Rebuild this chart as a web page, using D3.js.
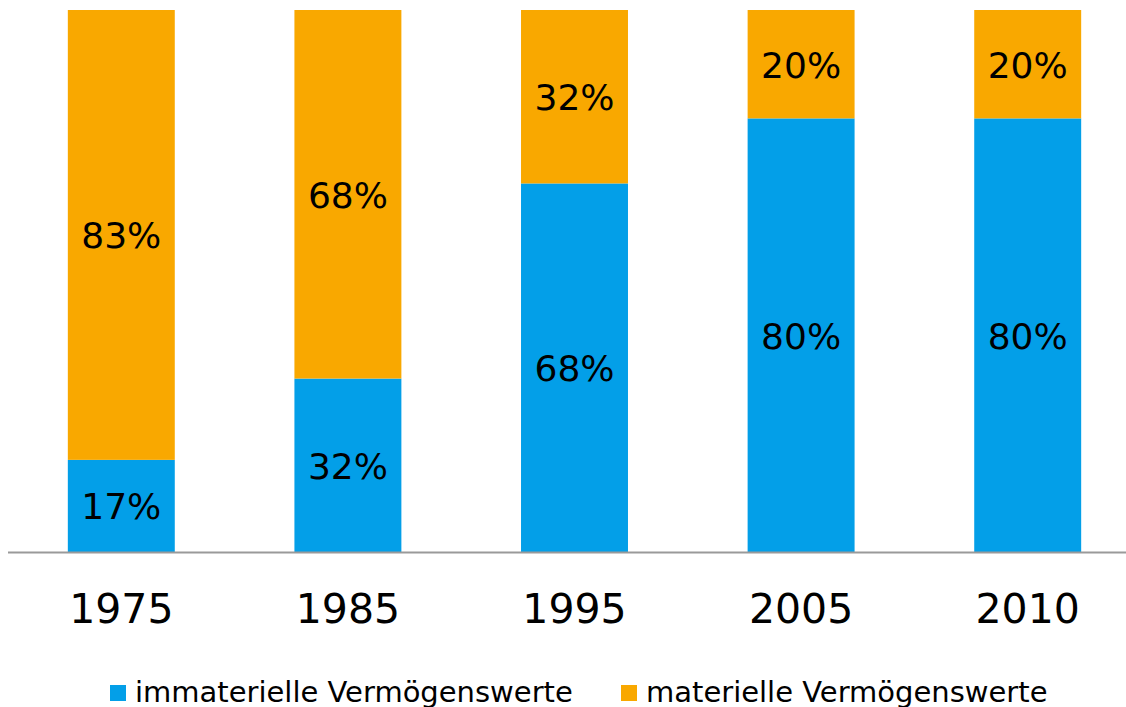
<!DOCTYPE html>
<html>
<head>
<meta charset="utf-8">
<script src="https://cdn.jsdelivr.net/npm/d3@7"></script>
<style>
  body { margin: 0; background: #fff; }
  svg { display: block; font-family: Verdana, "DejaVu Sans", sans-serif; }
</style>
</head>
<body>
<svg id="chart"></svg>
<script>
// data
let aYears = ['1975', '1985', '1995', '2005', '2010'];
let aImmateriell = [17, 32, 68, 80, 80];
let aMateriell = [83, 68, 32, 20, 20];
let aSeries = ['immaterielle Vermögenswerte', 'materielle Vermögenswerte'];
let aColors = ['#039fe8', '#f9a800'];

let iWidth = 1126;
let iHeight = 707;

let oSvg = d3.select('#chart')
      .attr('width', iWidth)
      .attr('height', iHeight);

let x = d3.scaleBand()
      .domain(aYears)
      .range([8, 1141])
      .paddingInner(0.528)
      .paddingOuter(0.264);

let y = d3.scaleLinear()
      .domain([0, 100])
      .range([552, 10]);

let oRows = aYears.map((sYear, i) => ({ year: sYear, a: aImmateriell[i], b: aMateriell[i] }));
let oStack = d3.stack().keys(['a', 'b'])(oRows);

let oLayers = oSvg.selectAll('g.layer')
      .data(oStack)
      .enter().append('g')
        .attr('class', 'layer')
        .attr('fill', (d, i) => aColors[i]);

oLayers.selectAll('rect')
      .data(d => d)
      .enter().append('rect')
        .attr('x', d => x(d.data.year))
        .attr('y', d => y(d[1]))
        .attr('width', x.bandwidth())
        .attr('height', d => y(d[0]) - y(d[1]));

oLayers.selectAll('text')
      .data(d => d)
      .enter().append('text')
        .attr('x', d => x(d.data.year) + x.bandwidth() / 2)
        .attr('y', d => (y(d[0]) + y(d[1])) / 2)
        .attr('dy', '0.37em')
        .attr('text-anchor', 'middle')
        .attr('font-size', 36)
        .attr('fill', '#000')
        .text(d => (d[1] - d[0]) + '%');

// baseline
oSvg.append('line')
      .attr('x1', 8)
      .attr('x2', iWidth)
      .attr('y1', y(0) + 0.5)
      .attr('y2', y(0) + 0.5)
      .attr('stroke', '#9a9a9a')
      .attr('stroke-width', 2);

// year labels
oSvg.selectAll('text.year')
      .data(aYears)
      .enter().append('text')
        .attr('class', 'year')
        .attr('x', d => x(d) + x.bandwidth() / 2)
        .attr('y', 623)
        .attr('text-anchor', 'middle')
        .attr('font-size', 41)
        .attr('fill', '#000')
        .text(d => d);

// legend
let aLegendX = [110, 621];
let oLegend = oSvg.selectAll('g.legend')
      .data(aSeries)
      .enter().append('g')
        .attr('class', 'legend')
        .attr('transform', (d, i) => 'translate(' + aLegendX[i] + ',685)');

oLegend.append('rect')
      .attr('width', 16)
      .attr('height', 16)
      .attr('fill', (d, i) => aColors[i]);

oLegend.append('text')
      .attr('x', 25)
      .attr('y', 17)
      .attr('font-size', 29)
      .attr('fill', '#000')
      .text(d => d);
</script>
</body>
</html>
